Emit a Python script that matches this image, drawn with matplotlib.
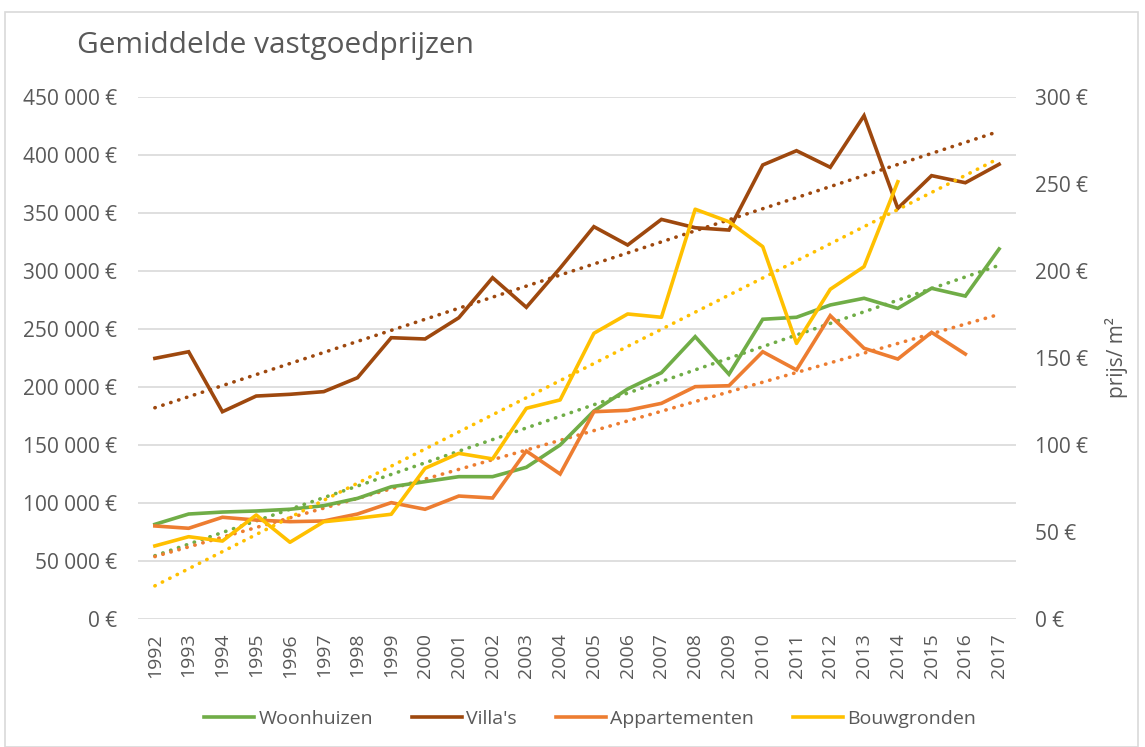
import numpy as np
import matplotlib.pyplot as plt
from matplotlib.ticker import FuncFormatter
from matplotlib.patches import Rectangle

plt.rcParams['font.family'] = ['Open Sans', 'DejaVu Sans']

jaren = list(range(1992, 2018))

woonhuizen = [81600, 90500, 92200, 93100, 94600, 97700, 104000, 114000, 118400, 122700,
              122700, 130800, 150000, 179300, 198300, 212300, 243400, 211000, 258400, 260100,
              270700, 276500, 267800, 285100, 278400, 319000]
villas = [224700, 230400, 178700, 192200, 193700, 196000, 208000, 242500, 241400, 259700,
          294200, 268700, 302500, 338200, 322400, 344500, 337300, 335300, 391400, 403700,
          389400, 433900, 354000, 382200, 376100, 392000]
appartementen = [80200, 78200, 87700, 85300, 83900, 84500, 90500, 100300, 94600, 106000,
                 104300, 144800, 125000, 178700, 179900, 185900, 200300, 201100, 230400, 214700,
                 261500, 233400, 224100, 247100, 228400, np.nan]
# prijs per m² (rechter as)
bouwgronden = [42.0, 47.3, 44.8, 59.8, 44.1, 55.9, 57.9, 60.2, 86.6, 95.2,
               92.0, 121.1, 125.9, 164.2, 175.3, 173.4, 235.5, 228.3, 214.0, 158.4,
               189.5, 202.5, 251.3, np.nan, np.nan, np.nan]

kleuren = {'Woonhuizen': '#70AD47', "Villa's": '#9E480E',
           'Appartementen': '#ED7D31', 'Bouwgronden': '#FFC000'}
grijs = '#595959'

x = np.arange(len(jaren))

fig = plt.figure(figsize=(11.45, 7.47), dpi=100)
ax = fig.add_axes([138/1145, 1-619/747, 878/1145, 522/747])
ax2 = ax.twinx()

def trend(a, reeks, kleur):
    y = np.array(reeks, dtype=float)
    ok = ~np.isnan(y)
    p = np.polyfit(x[ok], y[ok], 1)
    a.plot(x, np.polyval(p, x), color=kleur, lw=2.6, ls=(0, (0.1, 2.2)),
           dash_capstyle='round', zorder=3)

lijnen = []
for naam, reeks in [('Woonhuizen', woonhuizen), ("Villa's", villas), ('Appartementen', appartementen)]:
    l, = ax.plot(x, reeks, color=kleuren[naam], lw=2.6, label=naam, zorder=4,
                 solid_joinstyle='miter')
    trend(ax, reeks, kleuren[naam])
    lijnen.append(l)
l, = ax2.plot(x, bouwgronden, color=kleuren['Bouwgronden'], lw=2.6, label='Bouwgronden', zorder=4)
trend(ax2, bouwgronden, kleuren['Bouwgronden'])
lijnen.append(l)

ax.set_xlim(-0.5, len(jaren) - 0.5)
ax.set_ylim(0, 450000)
ax2.set_ylim(0, 300)
ax.set_yticks(np.arange(0, 450001, 50000))
ax2.set_yticks(np.arange(0, 301, 50))
ax.yaxis.set_major_formatter(FuncFormatter(lambda v, p: f'{int(v):,} €'.replace(',', ' ')))
ax2.yaxis.set_major_formatter(FuncFormatter(lambda v, p: f'{int(v)} €'))
ax.set_xticks(x)
ax.set_xticklabels([str(j) for j in jaren], rotation=90)

ax.grid(axis='y', color='#D9D9D9', lw=1.2)
ax.set_axisbelow(True)
for a in (ax, ax2):
    for s in a.spines.values():
        s.set_visible(False)
    a.tick_params(length=0, colors=grijs, labelsize=15)
ax.tick_params(axis='x', pad=10, labelsize=14)
ax.tick_params(axis='y', pad=15)
ax2.tick_params(axis='y', pad=14)
ax2.set_ylabel('prijs/ m²', color=grijs, fontsize=15, labelpad=12)

fig.text(77/1145, 1-46/747, 'Gemiddelde vastgoedprijzen', fontsize=21.5, color=grijs, va='center')

fig.legend(handles=lijnen, loc='center', bbox_to_anchor=(590/1145, 1-719/747), ncol=4,
           frameon=False, fontsize=14, labelcolor=grijs, handlelength=2.6,
           handletextpad=0.2, columnspacing=2.0)

fig.patches.append(Rectangle((5/1145, 0), 1133/1145, 1-12/747, transform=fig.transFigure,
                             fill=False, ec='#D9D9D9', lw=1.2))

fig.savefig('out.png', dpi=100)
